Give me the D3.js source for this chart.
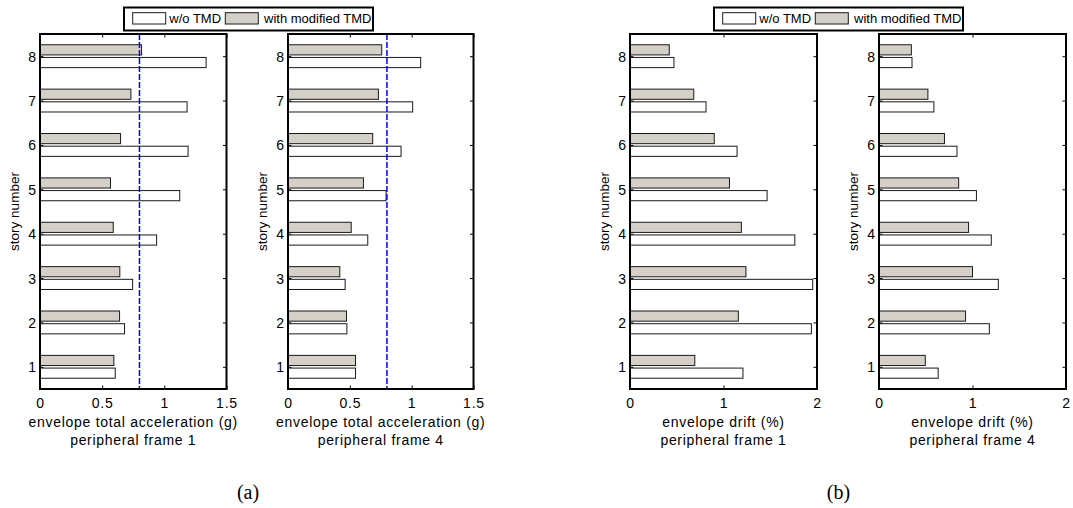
<!DOCTYPE html>
<html>
<head>
<meta charset="utf-8">
<script src="https://cdn.jsdelivr.net/npm/d3@7"></script>
<style>
  html, body { margin: 0; padding: 0; background: #fff; }
  svg { display: block; }
  text { font-family: "Liberation Sans", Arial, sans-serif; fill: #000; }
</style>
</head>
<body>
<svg id="chart" width="1073" height="508"></svg>
<script>
// Story levels of the 8-story building
const stories = [1, 2, 3, 4, 5, 6, 7, 8];

// Envelope total acceleration (g), peripheral frame 1
const accFrame1NoTMD  = [0.605, 0.680, 0.745, 0.938, 1.124, 1.191, 1.183, 1.336];
const accFrame1ModTMD = [0.594, 0.640, 0.642, 0.589, 0.567, 0.648, 0.731, 0.817];
// Envelope total acceleration (g), peripheral frame 4
const accFrame4NoTMD  = [0.546, 0.476, 0.462, 0.645, 0.793, 0.914, 1.008, 1.073];
const accFrame4ModTMD = [0.546, 0.473, 0.419, 0.511, 0.610, 0.685, 0.731, 0.758];

// Envelope drift (%), peripheral frame 1
const driftFrame1NoTMD  = [1.208, 1.940, 1.954, 1.763, 1.466, 1.145, 0.813, 0.470];
const driftFrame1ModTMD = [0.693, 1.159, 1.240, 1.191, 1.064, 0.901, 0.682, 0.420];
// Envelope drift (%), peripheral frame 4
const driftFrame4NoTMD  = [0.633, 1.180, 1.276, 1.201, 1.042, 0.834, 0.587, 0.353];
const driftFrame4ModTMD = [0.495, 0.926, 1.000, 0.958, 0.852, 0.700, 0.523, 0.346];

// Acceleration limit drawn as a dashed reference line
const accelerationLimit = 0.8;

// Axis ticks
const accTicks = [0, 0.5, 1, 1.5];
const driftTicks = [0, 1, 2];
const storyTicks = stories;

// Series names
const seriesNames = ["w/o TMD", "with modified TMD"];
const seriesFill = ["#ffffff", "#d4d0c8"];

// Panel texts
const accLabel = "envelope total acceleration (g)";
const driftLabel = "envelope drift (%)";
const frameLabels = ["peripheral frame 1", "peripheral frame 4"];
const groupLabels = ["(a)", "(b)"];

const svg = d3.select("#chart");

const plotTop = 34, plotBottom = 389;
const panels = [
  { x0: 40,  x1: 226.5, domain: [0, 1.5], ticks: accTicks,   noTMD: accFrame1NoTMD,   modTMD: accFrame1ModTMD,   xLabel: accLabel,   frame: frameLabels[0], limit: accelerationLimit },
  { x0: 288, x1: 473.5, domain: [0, 1.5], ticks: accTicks,   noTMD: accFrame4NoTMD,   modTMD: accFrame4ModTMD,   xLabel: accLabel,   frame: frameLabels[1], limit: accelerationLimit },
  { x0: 630, x1: 817,   domain: [0, 2],   ticks: driftTicks, noTMD: driftFrame1NoTMD, modTMD: driftFrame1ModTMD, xLabel: driftLabel, frame: frameLabels[0], limit: null },
  { x0: 879, x1: 1066,  domain: [0, 2],   ticks: driftTicks, noTMD: driftFrame4NoTMD, modTMD: driftFrame4ModTMD, xLabel: driftLabel, frame: frameLabels[1], limit: null }
];

// Grouped horizontal bars: two series per story
const barOffset = 0.143, barThick = 0.229;
const tickLen = 3.5;

panels.forEach(p => {
  const x = d3.scaleLinear().domain(p.domain).range([p.x0, p.x1]);
  const y = d3.scaleLinear().domain([0.5, 8.5]).range([plotBottom, plotTop]);
  const g = svg.append("g");

  const rows = stories.map((s, i) => ({ story: s, noTMD: p.noTMD[i], modTMD: p.modTMD[i] }));

  // series 1 (below the story tick), series 2 (above)
  [["noTMD", -1, 0], ["modTMD", 1, 1]].forEach(([key, sign, si]) => {
    g.selectAll("rect." + key).data(rows).enter().append("rect")
      .attr("class", key)
      .attr("x", x(0))
      .attr("width", d => x(d[key]) - x(0))
      .attr("y", d => y(d.story + sign * barOffset + barThick / 2))
      .attr("height", d => y(d.story + sign * barOffset - barThick / 2) - y(d.story + sign * barOffset + barThick / 2))
      .attr("fill", seriesFill[si])
      .attr("stroke", "#1a1a1a")
      .attr("stroke-width", 1);
  });

  // Dashed acceleration limit
  if (p.limit !== null) {
    g.append("line")
      .attr("x1", x(p.limit)).attr("x2", x(p.limit))
      .attr("y1", plotTop).attr("y2", plotBottom)
      .attr("stroke", "#0000ff").attr("stroke-width", 1.5)
      .attr("stroke-dasharray", "6,2");
  }

  // Bottom axis (inward ticks) and labels
  const xAxis = d3.axisBottom(x).tickValues(p.ticks).tickSize(-tickLen).tickPadding(0)
    .tickFormat(d3.format("~g"));
  const gx = g.append("g").attr("transform", `translate(0,${plotBottom})`).call(xAxis);
  gx.select(".domain").remove();
  gx.selectAll("line").attr("stroke", "#000");
  gx.selectAll("text").attr("y", 19).attr("dy", null)
    .style("font-size", "14px").style("letter-spacing", "0.8px").attr("fill", "#000");

  // Top mirror ticks
  const gxt = g.append("g").attr("transform", `translate(0,${plotTop})`)
    .call(d3.axisTop(x).tickValues(p.ticks).tickSize(-tickLen).tickFormat(""));
  gxt.select(".domain").remove();

  // Left axis with story numbers
  const yAxis = d3.axisLeft(y).tickValues(storyTicks).tickSize(-tickLen).tickPadding(4)
    .tickFormat(d3.format("d"));
  const gy = g.append("g").attr("transform", `translate(${p.x0},0)`).call(yAxis);
  gy.select(".domain").remove();
  gy.selectAll("text").attr("x", -4).attr("dy", "0.36em")
    .style("font-size", "14px").attr("fill", "#000");

  // Right mirror ticks
  const gyr = g.append("g").attr("transform", `translate(${p.x1},0)`)
    .call(d3.axisRight(y).tickValues(storyTicks).tickSize(-tickLen).tickFormat(""));
  gyr.select(".domain").remove();

  // Box
  g.append("rect")
    .attr("x", p.x0).attr("y", plotTop)
    .attr("width", p.x1 - p.x0).attr("height", plotBottom - plotTop)
    .attr("fill", "none").attr("stroke", "#000").attr("stroke-width", 2);

  // Axis titles
  const cx = (p.x0 + p.x1) / 2;
  g.append("text").attr("x", cx).attr("y", 426.5).attr("text-anchor", "middle")
    .style("font-size", "14px").style("letter-spacing", "0.7px").text(p.xLabel);
  g.append("text").attr("x", cx).attr("y", 444.5).attr("text-anchor", "middle")
    .style("font-size", "14px").style("letter-spacing", "0.7px").text(p.frame);
  g.append("text")
    .attr("transform", `translate(${p.x0 - 26},${(plotTop + plotBottom) / 2}) rotate(-90)`)
    .attr("text-anchor", "middle").attr("dy", "0.35em")
    .style("font-size", "13.5px").text("story number");
});

// Legends above each pair of panels
const legends = [{ x: 124, label: groupLabels[0], cx: 248 }, { x: 714, label: groupLabels[1], cx: 838.5 }];
legends.forEach(L => {
  const g = svg.append("g").attr("transform", `translate(${L.x},7.5)`);
  g.append("rect").attr("x", 0).attr("y", 0).attr("width", 249).attr("height", 23)
    .attr("fill", "#fff").attr("stroke", "#000").attr("stroke-width", 2);
  const items = [{ px: 8.7, tx: 45.3 }, { px: 101.3, tx: 140 }];
  items.forEach((it, i) => {
    g.append("rect").attr("x", it.px).attr("y", 5.2).attr("width", 33).attr("height", 11.3)
      .attr("fill", seriesFill[i]).attr("stroke", "#1a1a1a").attr("stroke-width", 1);
    g.append("text").attr("x", it.tx).attr("y", 15.5).style("font-size", "13px").text(seriesNames[i]);
  });
  svg.append("text").attr("x", L.cx).attr("y", 499).attr("text-anchor", "middle")
    .style("font-family", "'Liberation Serif', 'Times New Roman', serif")
    .style("font-size", "20px").text(L.label);
});
</script>
</body>
</html>
